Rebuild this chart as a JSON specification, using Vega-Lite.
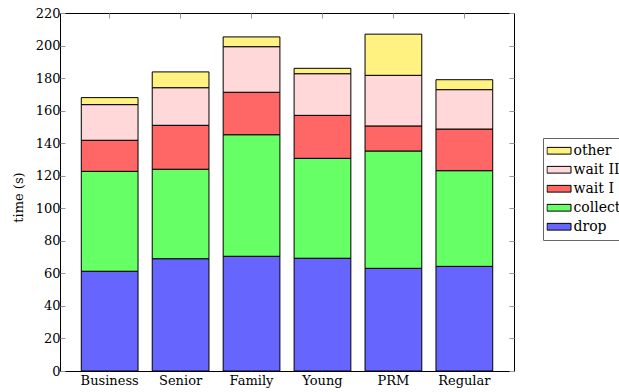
{
  "$schema": "https://vega.github.io/schema/vega-lite/v6.json",
  "width": 454,
  "height": 358,
  "autosize": {"type": "none"},
  "padding": {"left": 60, "top": 13, "right": 105, "bottom": 21},
  "background": "white",
  "config": {
    "view": {"stroke": "#000", "strokeWidth": 1},
    "font": "DejaVu Serif",
    "axis": {"domain": false, "grid": false, "labelFont": "DejaVu Serif", "titleFont": "DejaVu Serif", "labelColor": "#000", "titleColor": "#000", "labelFontSize": 13, "titleFontSize": 13, "titleFontWeight": "normal", "tickColor": "#999", "tickSize": -5, "tickWidth": 1}
  },
  "data": {
    "values": [
      {"group": "Business", "part": "drop", "k": 1, "time": 61.3},
      {"group": "Business", "part": "collect", "k": 2, "time": 61.4},
      {"group": "Business", "part": "wait I", "k": 3, "time": 19.1},
      {"group": "Business", "part": "wait II", "k": 4, "time": 21.9},
      {"group": "Business", "part": "other", "k": 5, "time": 4.3},
      {"group": "Senior", "part": "drop", "k": 1, "time": 69.0},
      {"group": "Senior", "part": "collect", "k": 2, "time": 55.0},
      {"group": "Senior", "part": "wait I", "k": 3, "time": 27.0},
      {"group": "Senior", "part": "wait II", "k": 4, "time": 23.1},
      {"group": "Senior", "part": "other", "k": 5, "time": 9.7},
      {"group": "Family", "part": "drop", "k": 1, "time": 70.5},
      {"group": "Family", "part": "collect", "k": 2, "time": 74.7},
      {"group": "Family", "part": "wait I", "k": 3, "time": 26.1},
      {"group": "Family", "part": "wait II", "k": 4, "time": 28.0},
      {"group": "Family", "part": "other", "k": 5, "time": 6.0},
      {"group": "Young", "part": "drop", "k": 1, "time": 69.3},
      {"group": "Young", "part": "collect", "k": 2, "time": 61.4},
      {"group": "Young", "part": "wait I", "k": 3, "time": 26.4},
      {"group": "Young", "part": "wait II", "k": 4, "time": 25.6},
      {"group": "Young", "part": "other", "k": 5, "time": 3.3},
      {"group": "PRM", "part": "drop", "k": 1, "time": 63.1},
      {"group": "PRM", "part": "collect", "k": 2, "time": 72.1},
      {"group": "PRM", "part": "wait I", "k": 3, "time": 15.4},
      {"group": "PRM", "part": "wait II", "k": 4, "time": 31.1},
      {"group": "PRM", "part": "other", "k": 5, "time": 25.3},
      {"group": "Regular", "part": "drop", "k": 1, "time": 64.3},
      {"group": "Regular", "part": "collect", "k": 2, "time": 58.8},
      {"group": "Regular", "part": "wait I", "k": 3, "time": 25.6},
      {"group": "Regular", "part": "wait II", "k": 4, "time": 24.2},
      {"group": "Regular", "part": "other", "k": 5, "time": 6.1}
    ]
  },
  "resolve": {"axis": {"x": "independent", "y": "independent"}},
  "layer": [
    {
      "mark": {"type": "bar", "stroke": "#000", "strokeWidth": 1},
      "encoding": {
        "x": {
          "field": "group", "type": "nominal", "sort": null,
          "scale": {"paddingInner": 0.2, "paddingOuter": 0.3},
          "axis": {"title": null, "labelAngle": 0, "labelPadding": 8, "orient": "bottom"}
        },
        "y": {
          "field": "time", "type": "quantitative", "stack": "zero",
          "scale": {"domain": [0, 220], "nice": false},
          "axis": {"title": "time (s)", "values": [0,20,40,60,80,100,120,140,160,180,200,220], "labelPadding": 5, "titlePadding": 10, "titleY": 184, "orient": "left"}
        },
        "order": {"field": "k", "type": "quantitative"},
        "color": {
          "field": "part", "type": "nominal",
          "scale": {"domain": ["drop", "collect", "wait I", "wait II", "other"], "range": ["#6666ff", "#66ff66", "#ff6666", "#ffd9d9", "#fff280"]},
          "legend": {
            "title": null,
            "values": ["other", "wait II", "wait I", "collect", "drop"],
            "orient": "none", "legendX": 483, "legendY": 125,
            "symbolType": "M-1,-0.28H1V0.28H-1Z",
            "symbolSize": 576,
            "symbolStrokeColor": "#000", "symbolStrokeWidth": 1, "symbolOpacity": 1,
            "labelFont": "DejaVu Serif", "labelFontSize": 14, "labelColor": "#000", "labelOffset": 2,
            "clipHeight": 18.5,
            "rowPadding": 0,
            "padding": 3.5,
            "strokeColor": "#666", "fillColor": "#fff"
          }
        }
      }
    },
    {
      "mark": {"type": "bar", "opacity": 0},
      "encoding": {
        "x": {"field": "group", "type": "nominal", "sort": null, "axis": {"title": null, "labels": false, "orient": "top"}},
        "y": {"field": "time", "type": "quantitative", "stack": "zero", "axis": {"title": null, "labels": false, "orient": "right", "values": [0,20,40,60,80,100,120,140,160,180,200,220]}},
        "order": {"field": "k", "type": "quantitative"}
      }
    }
  ]
}
